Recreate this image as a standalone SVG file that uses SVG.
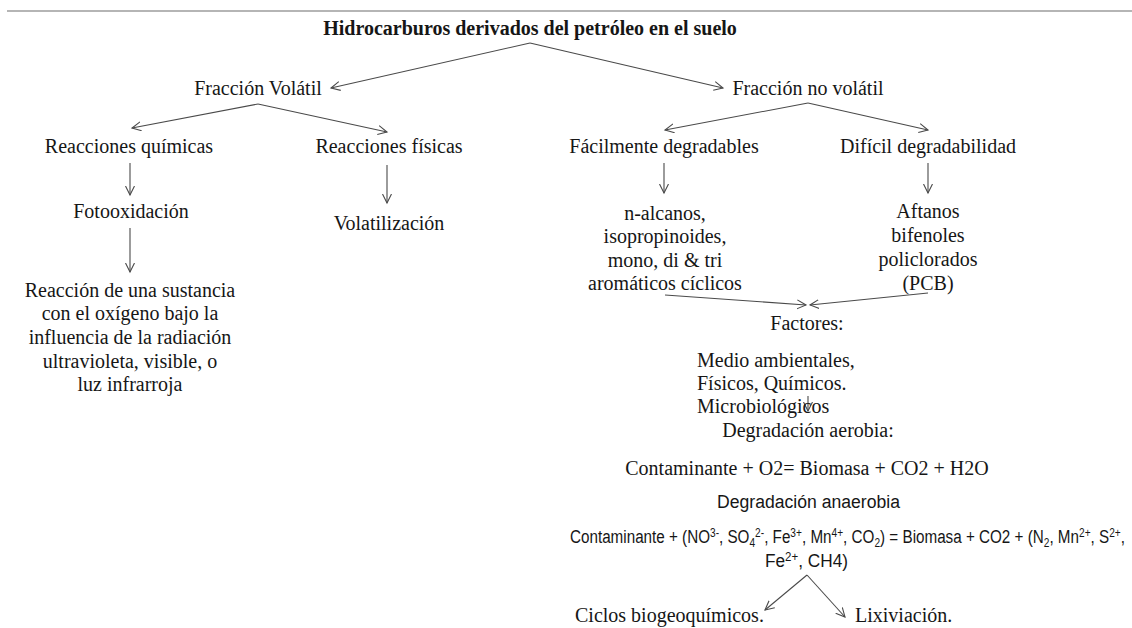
<svg xmlns="http://www.w3.org/2000/svg" width="1132" height="628" viewBox="0 0 1132 628">
<style>
.t{font-family:"Liberation Serif","Times New Roman",serif;font-size:20px;fill:#161616}
.b{font-weight:bold}
.s{font-family:"Liberation Sans",Arial,sans-serif;font-size:18px;fill:#161616}
.m{text-anchor:middle}
.c{stroke:#4a4a4a;stroke-width:1.1;fill:none}
.sp{font-size:12px}
</style>
<defs>
<marker id="ah" markerWidth="12" markerHeight="12" refX="9" refY="5" orient="auto" markerUnits="userSpaceOnUse">
<path d="M0,0.5 L9,5 L0,9.5" fill="none" stroke="#4a4a4a" stroke-width="1.1"/>
</marker>
</defs>
<rect width="1132" height="628" fill="#ffffff"/>
<line x1="7" y1="11" x2="1132" y2="11" stroke="#9c9c9c" stroke-width="1.3"/>

<g id="connectors" class="c">
<line x1="530" y1="43" x2="331" y2="88" marker-end="url(#ah)"/>
<line x1="530" y1="43" x2="723" y2="88" marker-end="url(#ah)"/>
<line x1="258" y1="104" x2="132" y2="128" marker-end="url(#ah)"/>
<line x1="258" y1="104" x2="387" y2="132" marker-end="url(#ah)"/>
<line x1="808" y1="103" x2="665" y2="130" marker-end="url(#ah)"/>
<line x1="808" y1="103" x2="928" y2="130" marker-end="url(#ah)"/>
<line x1="130" y1="163" x2="130" y2="195" marker-end="url(#ah)"/>
<line x1="130" y1="228" x2="130" y2="272" marker-end="url(#ah)"/>
<line x1="387" y1="165" x2="387" y2="203" marker-end="url(#ah)"/>
<line x1="664" y1="163" x2="664" y2="193" marker-end="url(#ah)"/>
<line x1="928" y1="163" x2="928" y2="193" marker-end="url(#ah)"/>
<line x1="665" y1="295" x2="806" y2="305" marker-end="url(#ah)"/>
<line x1="928" y1="293" x2="810" y2="305" marker-end="url(#ah)"/>
<line x1="808" y1="396" x2="808" y2="411" marker-end="url(#ah)"/>
<line x1="807" y1="575" x2="765" y2="610" marker-end="url(#ah)"/>
<line x1="807" y1="575" x2="845" y2="617" marker-end="url(#ah)"/>
</g>

<g id="title"><text class="t b m" x="530" y="35">Hidrocarburos derivados del petróleo en el suelo</text></g>
<g id="fraccion-volatil"><text class="t m" x="258" y="95">Fracción Volátil</text></g>
<g id="fraccion-no-volatil"><text class="t m" x="808" y="95">Fracción no volátil</text></g>
<g id="reacciones-quimicas"><text class="t m" x="129" y="153">Reacciones químicas</text></g>
<g id="reacciones-fisicas"><text class="t m" x="389" y="153">Reacciones físicas</text></g>
<g id="fotooxidacion"><text class="t m" x="131" y="218">Fotooxidación</text></g>
<g id="volatilizacion"><text class="t m" x="389" y="230">Volatilización</text></g>
<g id="reaccion-def">
<text class="t m" x="130" y="297">Reacción de una sustancia</text>
<text class="t m" x="130" y="320">con el oxígeno bajo la</text>
<text class="t m" x="130" y="344">influencia de la radiación</text>
<text class="t m" x="130" y="368">ultravioleta, visible, o</text>
<text class="t m" x="130" y="391">luz infrarroja</text>
</g>
<g id="facilmente"><text class="t m" x="664" y="153">Fácilmente degradables</text></g>
<g id="dificil"><text class="t m" x="928" y="153">Difícil degradabilidad</text></g>
<g id="alcanos">
<text class="t m" x="665" y="220">n-alcanos,</text>
<text class="t m" x="665" y="243">isopropinoides,</text>
<text class="t m" x="665" y="267">mono, di &amp; tri</text>
<text class="t m" x="665" y="290">aromáticos cíclicos</text>
</g>
<g id="aftanos">
<text class="t m" x="928" y="218">Aftanos</text>
<text class="t m" x="928" y="242">bifenoles</text>
<text class="t m" x="928" y="266">policlorados</text>
<text class="t m" x="928" y="290">(PCB)</text>
</g>
<g id="factores">
<text class="t m" x="807" y="330">Factores:</text>
<text class="t" x="697" y="367">Medio ambientales,</text>
<text class="t" x="697" y="390">Físicos, Químicos.</text>
<text class="t" x="697" y="413">Microbiológicos</text>
</g>
<g id="aerobia">
<text class="t m" x="808" y="437">Degradación aerobia:</text>
<text class="t m" x="807" y="475">Contaminante + O2= Biomasa + CO2 + H2O</text>
</g>
<g id="anaerobia">
<text class="s" x="717" y="508" textLength="183" lengthAdjust="spacingAndGlyphs">Degradación anaerobia</text>
<text class="s" x="570" y="543" textLength="555" lengthAdjust="spacingAndGlyphs">Contaminante + (NO<tspan class="sp" dy="-6">3-</tspan><tspan dy="6">, SO</tspan><tspan class="sp" dy="4">4</tspan><tspan class="sp" dy="-10">2-</tspan><tspan dy="6">, Fe</tspan><tspan class="sp" dy="-6">3+</tspan><tspan dy="6">, Mn</tspan><tspan class="sp" dy="-6">4+</tspan><tspan dy="6">, CO</tspan><tspan class="sp" dy="4">2</tspan><tspan dy="-4">) = Biomasa + CO2 + (N</tspan><tspan class="sp" dy="4">2</tspan><tspan dy="-4">, Mn</tspan><tspan class="sp" dy="-6">2+</tspan><tspan dy="6">, S</tspan><tspan class="sp" dy="-6">2+</tspan><tspan dy="6">,</tspan></text>
<text class="s" x="765" y="567" textLength="83" lengthAdjust="spacingAndGlyphs">Fe<tspan class="sp" dy="-6">2+</tspan><tspan dy="6">, CH4)</tspan></text>
</g>
<g id="ciclos"><text class="t" x="575" y="622">Ciclos biogeoquímicos.</text></g>
<g id="lixiviacion"><text class="t" x="855" y="622">Lixiviación.</text></g>
</svg>
